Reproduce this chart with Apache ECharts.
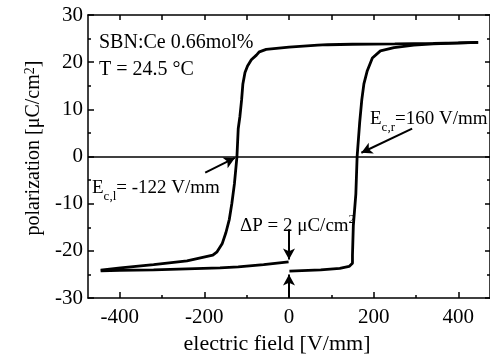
<!DOCTYPE html>
<html>
<head>
<meta charset="utf-8">
<script src="https://cdn.jsdelivr.net/npm/echarts@6/dist/echarts.min.js"></script>
<style>
  html, body { margin: 0; padding: 0; background: #fff; }
  #chart { width: 490px; height: 360px; }
</style>
</head>
<body>
<div id="chart"></div>
<script>
// hysteresis loop, field [V/mm] vs polarization [uC/cm2]
const upperBranch = [
  [447, 24.2], [400, 24.1], [341, 24.0], [250, 23.9], [150, 23.8], [91, 23.7],
  [68, 23.6], [0, 23.2], [-54, 22.7], [-70, 22.2], [-77, 21.5], [-89, 20.5],
  [-98, 19.2], [-104, 17.8], [-109, 15.4], [-112, 12.0], [-116, 8.5], [-120, 5.9],
  [-123, 0], [-129, -5.8], [-135, -9.9], [-141, -13.3], [-149, -16.1], [-158, -18.5],
  [-170, -20.2], [-180, -20.9], [-241, -22.1], [-320, -22.9], [-398, -23.6], [-445, -24.1]
];
const lowerLeft = [
  [-445, -24.2], [-400, -24.1], [-320, -24.0], [-241, -23.8], [-163, -23.6],
  [-120, -23.4], [-60, -22.9], [-1, -22.3]
];
const lowerRight = [
  [1, -24.3], [75, -24.0], [120, -23.7], [142, -23.3], [150, -22.6], [150, -20.9],
  [152, -14.7], [158, -7.9], [161, 0], [167, 7.2], [172, 12.0], [177, 15.4],
  [185, 18.2], [197, 20.9], [216, 22.4], [248, 23.1], [295, 23.6], [341, 23.9], [447, 24.2]
];

// annotation arrows (from -> to, data units)
const ecLeftArrow = [[-198, -3.4], [-128, -0.3]];
const ecRightArrow = [[291, 5.9], [171, 0.8]];
const dpDownArrow = [[0, -15.4], [0, -21.8]];
const dpUpArrow = [[0, -30], [0, -25.0]];

const xMajor = [-400, -200, 0, 200, 400];
const xMinor = [-300, -100, 100, 300];
const xAll = [-400, -300, -200, -100, 0, 100, 200, 300, 400];

const FONT = '"Liberation Serif", "DejaVu Serif", serif';
const BLACK = '#000';

const chart = echarts.init(document.getElementById('chart'));

const lineAxis = { show: true, onZero: false, lineStyle: { color: BLACK, width: 1.5 } };

const arrow = (pair) => [
  { coord: pair[0] },
  { coord: pair[1] }
];

// rich styles for sub/superscripts
const richLabel = (size) => ({
  n: { fontFamily: FONT, fontSize: size, lineHeight: size + 2, verticalAlign: 'top' },
  s: { fontFamily: FONT, fontSize: 13, lineHeight: 14, verticalAlign: 'top', padding: [11, 0, 0, 0] }
});

const option = {
  animation: false,
  backgroundColor: '#fff',
  grid: { left: 88, top: 15, width: 405, height: 292 },
  xAxis: [
    {
      type: 'value', min: -475, max: 475, position: 'bottom',
      axisLine: lineAxis,
      axisTick: { inside: true, length: 6, customValues: xMajor, lineStyle: { color: BLACK, width: 1.5 } },
      axisLabel: { customValues: xMajor, color: BLACK, fontFamily: FONT, fontSize: 21, margin: 9 },
      splitLine: { show: false },
      name: 'electric field [V/mm]',
      nameLocation: 'middle', nameGap: 27,
      nameTextStyle: { color: BLACK, fontFamily: FONT, fontSize: 22, padding: [0, 24, 0, 0] }
    },
    {
      type: 'value', min: -475, max: 475, position: 'bottom',
      axisLine: { show: false, onZero: false },
      axisTick: { inside: true, length: 3, customValues: xMinor, lineStyle: { color: BLACK, width: 1.5 } },
      axisLabel: { show: false },
      splitLine: { show: false }
    },
    {
      type: 'value', min: -475, max: 475, position: 'top',
      axisLine: lineAxis,
      axisTick: { inside: true, length: 5, customValues: xAll, lineStyle: { color: BLACK, width: 1.5 } },
      axisLabel: { show: false },
      splitLine: { show: false }
    }
  ],
  yAxis: [
    {
      type: 'value', min: -30, max: 30, interval: 10, position: 'left',
      axisLine: lineAxis,
      axisTick: { inside: true, length: 6, lineStyle: { color: BLACK, width: 1.5 } },
      minorTick: { show: true, splitNumber: 2, length: 3, lineStyle: { color: BLACK, width: 1.5 } },
      axisLabel: { color: BLACK, fontFamily: FONT, fontSize: 21, margin: 5 },
      splitLine: { show: false },
      name: 'polarization [μC/cm{sup|2}]',
      nameLocation: 'middle', nameGap: 41,
      nameTextStyle: {
        color: BLACK, fontFamily: FONT, fontSize: 20, padding: [0, 0, 0, 17],
        rich: { sup: { fontFamily: FONT, fontSize: 14, color: BLACK, verticalAlign: 'top', padding: [0, 0, 8, 0] } }
      }
    },
    {
      type: 'value', min: -30, max: 30, interval: 10, position: 'right',
      axisLine: lineAxis,
      axisTick: { inside: true, length: 5, lineStyle: { color: BLACK, width: 1.5 } },
      minorTick: { show: true, splitNumber: 2, length: 3, lineStyle: { color: BLACK, width: 1.5 } },
      axisLabel: { show: false },
      splitLine: { show: false }
    }
  ],
  series: [
    {
      type: 'line', data: upperBranch, showSymbol: false, symbol: 'none',
      lineStyle: { color: BLACK, width: 2.8 },
      markLine: {
        silent: true, symbol: 'none', label: { show: false },
        lineStyle: { color: BLACK, width: 1.5, type: 'solid' },
        data: [{ yAxis: 0 }]
      }
    },
    {
      type: 'line', data: lowerLeft, showSymbol: false, symbol: 'none',
      lineStyle: { color: BLACK, width: 2.8 }
    },
    {
      type: 'line', data: lowerRight, showSymbol: false, symbol: 'none',
      lineStyle: { color: BLACK, width: 2.8 },
      markLine: {
        silent: true, symbol: ['none', 'arrow'], symbolSize: [9, 11],
        label: { show: false },
        lineStyle: { color: BLACK, width: 2, type: 'solid' },
        data: [arrow(ecLeftArrow), arrow(ecRightArrow), arrow(dpDownArrow), arrow(dpUpArrow)]
      }
    }
  ],
  graphic: [
    {
      type: 'text', left: 99, top: 33,
      style: { text: 'SBN:Ce 0.66mol%', font: '20px ' + FONT, fill: BLACK }
    },
    {
      type: 'text', left: 99, top: 60,
      style: { text: 'T = 24.5 °C', font: '20px ' + FONT, fill: BLACK }
    },
    {
      type: 'text', left: 370, top: 110,
      style: { text: '{n|E}{s|c,r}{n|=160 V/mm}', fill: BLACK, rich: richLabel(19) }
    },
    {
      type: 'text', left: 92, top: 179,
      style: { text: '{n|E}{s|c,l}{n|= -122 V/mm}', fill: BLACK, rich: richLabel(19) }
    },
    {
      type: 'text', left: 240, top: 213,
      style: {
        text: '{n|ΔP = 2 μC/cm}{p|2}', fill: BLACK,
        rich: {
          n: { fontFamily: FONT, fontSize: 19, lineHeight: 21, verticalAlign: 'top', padding: [4, 0, 0, 0] },
          p: { fontFamily: FONT, fontSize: 13, lineHeight: 14, verticalAlign: 'top' }
        }
      }
    }
  ]
};

chart.setOption(option);
</script>
</body>
</html>
